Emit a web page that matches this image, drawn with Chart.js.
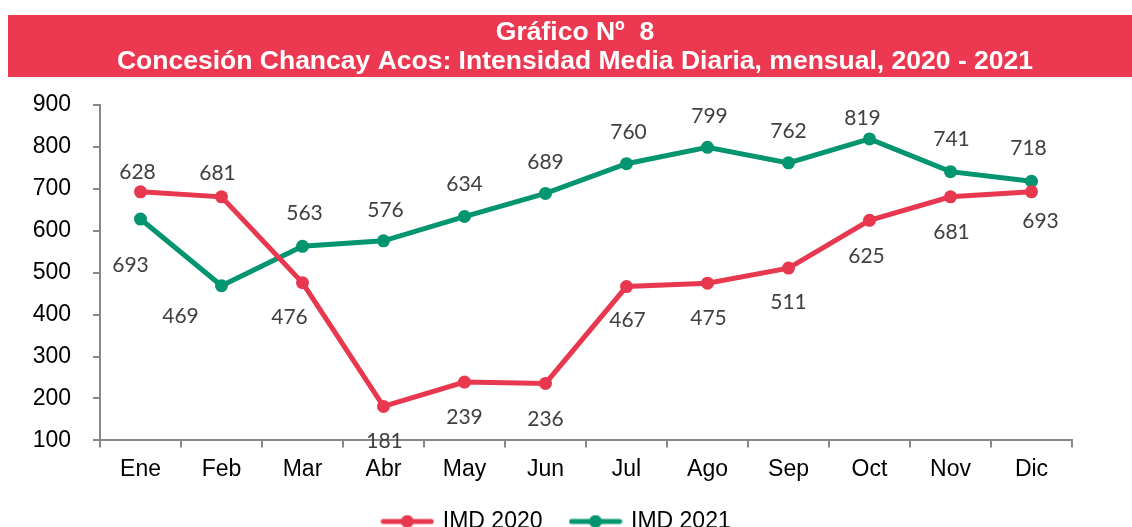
<!DOCTYPE html>
<html>
<head>
<meta charset="utf-8">
<script src="https://cdn.jsdelivr.net/npm/chart.js@4"></script>
<style>
  html, body { margin: 0; padding: 0; background: #fff; }
  #wrap { width: 1132px; height: 527px; }
</style>
</head>
<body>
<div id="wrap"><canvas id="imdChart" width="1132" height="527"></canvas></div>
<script>
// datos del gráfico
const meses = ['Ene', 'Feb', 'Mar', 'Abr', 'May', 'Jun', 'Jul', 'Ago', 'Sep', 'Oct', 'Nov', 'Dic'];
const imd2020 = [693, 681, 476, 181, 239, 236, 467, 475, 511, 625, 681, 693];
const imd2021 = [628, 469, 563, 576, 634, 689, 760, 799, 762, 819, 741, 718];
const yTicks = [100, 200, 300, 400, 500, 600, 700, 800, 900];

const titulo = ['Gráfico Nº  8', 'Concesión Chancay Acos: Intensidad Media Diaria, mensual, 2020 - 2021'];

const rojo = '#E8384F';
const verde = '#03956F';

// desplazamiento de las etiquetas respecto al punto (px)
const offs2020 = [[-10, 73], [-4, -24], [-13, 34], [1, 35], [0, 35], [0, 36], [1, 34], [1, 35], [0, 34], [-3, 36], [1, 35], [9, 29]];
const offs2021 = [[-3, -47], [-41, 31], [2, -33], [2, -31], [0, -32], [0, -31], [2, -31], [2, -31], [0, -32], [-7, -21], [1, -32], [-3, -33]];

function legendIcon(color) {
    const c = document.createElement('canvas');
    c.width = 54; c.height = 14;
    const g = c.getContext('2d');
    g.strokeStyle = color; g.lineWidth = 5; g.lineCap = 'round';
    g.beginPath(); g.moveTo(3, 7); g.lineTo(51, 7); g.stroke();
    g.fillStyle = color;
    g.beginPath(); g.arc(27, 7, 6.5, 0, Math.PI * 2); g.fill();
    return c;
}

const banner = {
    id: 'banner',
    beforeDraw(chart) {
        const ctx = chart.ctx;
        ctx.save();
        ctx.fillStyle = '#EC3850';
        ctx.fillRect(8, 15, chart.width - 8, 62);
        ctx.fillStyle = '#fff';
        ctx.font = 'bold 26.5px "Liberation Sans", Arial, sans-serif';
        ctx.textAlign = 'center';
        ctx.textBaseline = 'middle';
        ctx.fillText(titulo[0], 575, 33);
        ctx.fillText(titulo[1], 575, 62);
        ctx.restore();
    }
};

const etiquetas = {
    id: 'etiquetas',
    afterDatasetsDraw(chart) {
        const ctx = chart.ctx;
        ctx.save();
        ctx.font = '21px Lato, "Noto Sans", sans-serif';
        ctx.fillStyle = '#404040';
        ctx.textAlign = 'center';
        ctx.textBaseline = 'middle';
        chart.data.datasets.forEach((ds, i) => {
            const meta = chart.getDatasetMeta(i);
            const offs = ds.labelOffsets;
            meta.data.forEach((pt, j) => {
                ctx.fillText(String(ds.data[j]), pt.x + offs[j][0], pt.y + offs[j][1]);
            });
        });
        ctx.restore();
    }
};

const ctx = document.getElementById('imdChart').getContext('2d');
const imdChart = new Chart(ctx, {
    type: 'line',
    data: {
        labels: meses,
        datasets: [{
            label: 'IMD 2020',
            data: imd2020,
            borderColor: rojo,
            backgroundColor: rojo,
            borderWidth: 5,
            pointRadius: 6.5,
            pointBorderWidth: 0,
            pointStyle: 'circle',
            tension: 0,
            labelOffsets: offs2020
        }, {
            label: 'IMD 2021',
            data: imd2021,
            borderColor: verde,
            backgroundColor: verde,
            borderWidth: 5,
            pointRadius: 6.5,
            pointBorderWidth: 0,
            pointStyle: 'circle',
            tension: 0,
            labelOffsets: offs2021
        }]
    },
    options: {
        responsive: false,
        animation: false,
        layout: { padding: { top: 105, left: 32, right: 50, bottom: -16 } },
        scales: {
            x: {
                offset: true,
                afterFit(scale) { scale.height -= 10; },
                grid: { offset: true, drawOnChartArea: false, drawTicks: true, tickLength: 7, color: '#888', lineWidth: 2 },
                border: { display: true, color: '#888', width: 2 },
                ticks: { color: '#000', padding: 8, font: { family: '"Liberation Sans", Arial', size: 23 } }
            },
            y: {
                min: 100,
                max: 900,
                afterBuildTicks(scale) { scale.ticks = yTicks.map(v => ({ value: v })); },
                afterFit(scale) { scale.width = 68; },
                grid: { drawOnChartArea: false, drawTicks: true, tickLength: 7, color: '#888', lineWidth: 2 },
                border: { display: true, color: '#888', width: 2 },
                ticks: { color: '#000', padding: 22, font: { family: '"Liberation Sans", Arial', size: 23 } }
            },
            margen: {
                position: 'right',
                afterFit(scale) { scale.width = 10; },
                grid: { display: false },
                border: { display: false },
                ticks: { display: false }
            }
        },
        plugins: {
            title: { display: false },
            tooltip: { enabled: false },
            legend: {
                position: 'bottom',
                labels: {
                    usePointStyle: true,
                    pointStyleWidth: 48,
                    padding: 29,
                    color: '#000',
                    font: { family: '"Liberation Sans", Arial', size: 23 },
                    generateLabels(chart) {
                        return chart.data.datasets.map((ds, i) => ({
                            text: ds.label,
                            pointStyle: legendIcon(ds.borderColor),
                            fillStyle: ds.borderColor,
                            strokeStyle: ds.borderColor,
                            lineWidth: 0,
                            hidden: false,
                            datasetIndex: i,
                            fontColor: '#000'
                        }));
                    }
                }
            }
        }
    },
    plugins: [banner, etiquetas]
});
</script>
</body>
</html>
